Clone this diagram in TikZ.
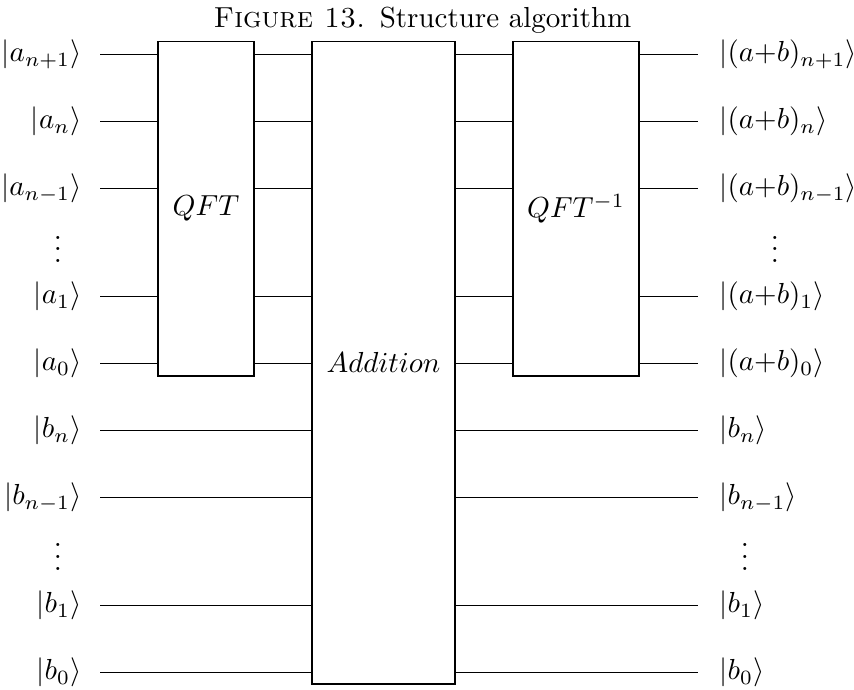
\documentclass[tikz,border=0pt]{standalone}
\usetikzlibrary{fit}
\begin{document}
\begin{tikzpicture}[x=0.345pt,y=-0.345pt,
  wire/.style={line width=0.4pt},
  gatebox/.style={draw, line width=0.4pt, fill=white, inner sep=0pt},
  lbl/.style={inner sep=0pt, text height=7.5pt, text depth=2.5pt},
  inlbl/.style={lbl, anchor=east},
  outlbl/.style={lbl, anchor=west},
  dots/.style={inner sep=0pt, anchor=base, text height=9pt, text depth=0pt}]
\useasboundingbox (0,0) rectangle (854,689);
\node[anchor=base] (title) at (422.5,27) {\textsc{Figure 13.}\enspace Structure algorithm};
% wires
\foreach \i/\y/\lt/\rt in {
  1/54.5/{a_{n+1}}/{(a{+}b)_{n+1}},
  2/121.5/{a_{n}}/{(a{+}b)_{n}},
  3/188.5/{a_{n-1}}/{(a{+}b)_{n-1}},
  4/296.5/{a_{1}}/{(a{+}b)_{1}},
  5/363.5/{a_{0}}/{(a{+}b)_{0}},
  6/430.5/{b_{n}}/{b_{n}},
  7/497.5/{b_{n-1}}/{b_{n-1}},
  8/605.5/{b_{1}}/{b_{1}},
  9/672.5/{b_{0}}/{b_{0}}}{
  \node[inlbl] (in\i) at (82,\y) {$|\lt\rangle$};
  \node[outlbl] (out\i) at (719,\y) {$|\rt\rangle$};
  \coordinate (ws\i) at (100,\y);
  \coordinate (we\i) at (698,\y);
  \draw[wire] (ws\i) -- (we\i);
}
% dots
\node[dots] (dla) at (58,262.5) {$\vdots$};
\node[dots] (dlb) at (58,570) {$\vdots$};
\node[dots] (dra) at (775,262.5) {$\vdots$};
\node[dots] (drb) at (745,570) {$\vdots$};
% gates
\node[gatebox, fit={(158,41.7) (254,376)}] (qft) {};
\node at (qft.center) {$QFT$};
\node[gatebox, fit={(312,41.7) (455,684)}] (add) {};
\node at (add.center) {$Addition$};
\node[gatebox, fit={(513,41.7) (639,376)}] (iqft) {};
\node at (iqft.center) {$QFT^{-1}$};
\end{tikzpicture}
\end{document}
